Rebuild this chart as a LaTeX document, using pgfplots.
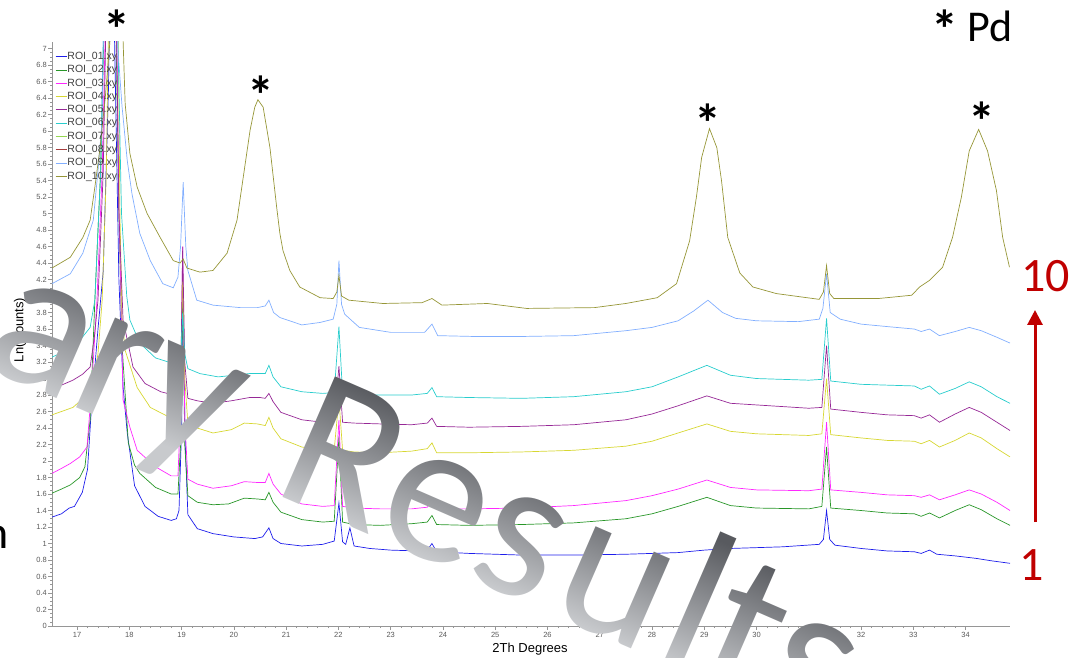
\documentclass[border=0pt]{standalone}
\usepackage{fontspec}
\setmainfont{Liberation Sans}
\newfontfamily\carlito{Carlito}
\usepackage{pgfplots}
\pgfplotsset{compat=1.18}
\usetikzlibrary{arrows.meta,fadings}

\definecolor{c01}{RGB}{30,30,235}
\definecolor{c02}{RGB}{40,150,40}
\definecolor{c03}{RGB}{255,40,255}
\definecolor{c04}{RGB}{215,215,50}
\definecolor{c05}{RGB}{150,40,150}
\definecolor{c06}{RGB}{40,205,205}
\definecolor{c07}{RGB}{150,215,80}
\definecolor{c08}{RGB}{165,60,60}
\definecolor{c09}{RGB}{130,175,255}
\definecolor{c10}{RGB}{150,150,55}
\definecolor{axisgray}{RGB}{150,150,150}
\definecolor{labelgray}{RGB}{90,90,90}
\definecolor{wmlight}{RGB}{200,202,205}
\definecolor{wmdark}{RGB}{88,90,95}
\definecolor{annred}{RGB}{192,0,0}

% gradient across the height of the watermark letters
\pgfdeclareverticalshading{wmshade}{100bp}{color(0bp)=(wmlight); color(50bp)=(wmlight); color(59.6bp)=(wmdark); color(100bp)=(wmdark)}

% watermark glyphs on a common baseline (local frame, baseline along x)
\begin{tikzfadingfrompicture}[name=wmfade, x=1pt, y=1pt]
\path (-700,-350) rectangle (700,350);
\begin{scope}[every node/.style={inner sep=0pt, anchor=base, text=transparent!0, font=\carlito\fontsize{205}{205}\selectfont}]
\node at (-283,0) {a};
\node at (-202,0) {r};
\node at (-122,0) {y};
\node at (41,0) {R};
\node at (145,0) {e};
\node at (237,0) {s};
\node at (340,0) {u};
\node at (424,0) {l};
\node at (480,0) {t};
\node at (553,0) {s};
\end{scope}
\end{tikzfadingfrompicture}

\begin{document}
\begin{tikzpicture}[x=1pt,y=1pt]
\useasboundingbox (0,0) rectangle (1071,657);
\begin{axis}[
  at={(52pt,31pt)}, anchor=south west,
  scale only axis, width=958pt, height=584pt,
  xmin=16.52, xmax=34.85, ymin=0, ymax=7.08,
  axis x line=bottom, axis y line=left,
  axis line style={-, draw=axisgray, line width=0.8pt},
  xtick={17,...,34}, ytick={0,0.2,...,7},
  minor x tick num=4, minor y tick num=3,
  tick align=outside, major tick length=4pt, minor tick length=2pt,
  every tick/.style={axisgray, line width=0.6pt},
  ticklabel style={font=\fontsize{7.5}{8}\selectfont, text=labelgray},
  /pgf/number format/assume math mode=true,
  yticklabel style={/pgf/number format/fixed, /pgf/number format/precision=1, inner sep=1pt},
  xticklabel style={inner sep=2pt},
  legend style={at={(axis description cs:0.003,0.985)}, anchor=north west,
    draw=none, fill=none, font=\fontsize{10.5}{11}\selectfont, text=black!75,
    inner sep=0pt, row sep=1.8pt,
    nodes={inner sep=0.5pt, text height=8pt, text depth=2.5pt}},
  legend cell align=left,
  legend image code/.code={\draw[#1, line width=0.9pt] (0pt,0pt) -- (11pt,0pt);},
]
% ROI_01
\addplot[c01, line width=0.7pt] coordinates {
(16.52,1.32)(16.7,1.36)(16.85,1.43)(16.95,1.45)(17.1,1.62)(17.2,1.9)(17.27,2.6)(17.4,3.6)(17.5,4.3)(17.6,6.5)(17.66,9)(17.72,7)(17.8,4.2)(17.88,2.9)(17.96,2.34)(18.1,1.70)(18.3,1.45)(18.55,1.33)(18.8,1.28)(18.9,1.30)(18.95,1.40)(19.0,2.4)(19.03,3.9)(19.07,2.2)(19.12,1.35)(19.3,1.18)(19.6,1.12)(20.0,1.08)(20.4,1.06)(20.55,1.08)(20.67,1.19)(20.75,1.06)(20.9,1.00)(21.3,0.97)(21.7,0.99)(21.92,1.03)(22.01,1.49)(22.08,1.02)(22.14,0.99)(22.22,1.19)(22.3,0.97)(22.6,0.94)(23.0,0.92)(23.5,0.91)(23.7,0.92)(23.79,1.0)(23.88,0.90)(24.5,0.88)(25.5,0.86)(26.5,0.86)(27.5,0.87)(28.5,0.89)(29.0,0.92)(29.5,0.94)(30.5,0.96)(31.2,0.99)(31.28,1.05)(31.34,1.40)(31.40,1.05)(31.5,0.98)(32.0,0.94)(32.5,0.91)(33.02,0.90)(33.15,0.88)(33.31,0.92)(33.45,0.87)(33.8,0.85)(34.2,0.82)(34.5,0.79)(34.85,0.76)};
% ROI_02
\addplot[c02, line width=0.7pt] coordinates {
(16.52,1.61)(16.7,1.66)(16.87,1.71)(17.05,1.80)(17.15,1.93)(17.25,2.5)(17.34,3.95)(17.45,5.5)(17.58,9)(17.7,9)(17.8,5)(17.86,3.4)(17.98,2.22)(18.1,1.95)(18.2,1.85)(18.5,1.68)(18.8,1.60)(18.93,1.60)(18.98,2.2)(19.02,4.1)(19.06,2.2)(19.12,1.58)(19.3,1.50)(19.6,1.47)(19.9,1.48)(20.2,1.55)(20.45,1.54)(20.6,1.53)(20.67,1.62)(20.75,1.50)(20.9,1.38)(21.3,1.29)(21.7,1.26)(21.92,1.27)(22.01,2.3)(22.08,1.26)(22.3,1.23)(22.8,1.22)(23.4,1.24)(23.7,1.26)(23.79,1.34)(23.88,1.23)(24.5,1.22)(25.5,1.23)(26.5,1.25)(27.5,1.30)(28.0,1.36)(28.5,1.45)(29.05,1.56)(29.5,1.46)(30.0,1.43)(31.0,1.42)(31.25,1.45)(31.34,2.17)(31.42,1.43)(32.0,1.40)(32.5,1.37)(33.02,1.36)(33.15,1.33)(33.31,1.37)(33.5,1.31)(33.8,1.40)(34.07,1.47)(34.3,1.41)(34.6,1.30)(34.85,1.22)};
% ROI_03
\addplot[c03, line width=0.7pt] coordinates {
(16.52,1.85)(16.7,1.91)(16.87,1.97)(17.05,2.05)(17.19,2.17)(17.28,2.9)(17.38,3.95)(17.48,5.5)(17.6,9)(17.72,9)(17.8,5.2)(17.88,2.74)(18.01,2.41)(18.15,2.13)(18.5,1.93)(18.8,1.82)(18.93,1.82)(18.98,2.6)(19.02,4.6)(19.06,2.5)(19.12,1.78)(19.3,1.72)(19.6,1.67)(19.95,1.70)(20.2,1.75)(20.45,1.74)(20.6,1.74)(20.67,1.85)(20.75,1.72)(20.9,1.60)(21.3,1.48)(21.7,1.45)(21.92,1.46)(22.01,2.5)(22.08,1.45)(22.3,1.43)(22.8,1.42)(23.4,1.42)(23.7,1.44)(23.79,1.52)(23.88,1.42)(24.5,1.42)(25.5,1.43)(26.5,1.46)(27.5,1.52)(28.0,1.58)(28.5,1.66)(29.05,1.77)(29.5,1.68)(30.0,1.65)(31.0,1.64)(31.25,1.66)(31.34,2.47)(31.42,1.65)(32.0,1.62)(32.5,1.59)(33.02,1.58)(33.15,1.56)(33.31,1.59)(33.5,1.53)(33.8,1.59)(34.07,1.65)(34.3,1.60)(34.6,1.50)(34.85,1.40)};
% ROI_04
\addplot[c04, line width=0.7pt] coordinates {
(16.52,2.56)(16.7,2.60)(16.92,2.65)(17.1,2.75)(17.3,2.94)(17.4,3.3)(17.48,3.95)(17.56,5.5)(17.64,9)(17.76,9)(17.82,5.0)(17.86,3.74)(17.92,3.34)(18.15,2.89)(18.4,2.65)(18.8,2.52)(18.93,2.52)(18.98,3.0)(19.02,4.27)(19.06,3.0)(19.12,2.45)(19.3,2.40)(19.6,2.34)(19.95,2.38)(20.2,2.46)(20.45,2.45)(20.6,2.43)(20.67,2.53)(20.75,2.40)(20.9,2.27)(21.3,2.17)(21.7,2.13)(21.92,2.14)(22.01,2.75)(22.08,2.13)(22.3,2.11)(22.8,2.10)(23.4,2.12)(23.7,2.15)(23.79,2.22)(23.88,2.10)(24.5,2.10)(25.5,2.11)(26.5,2.13)(27.5,2.18)(28.0,2.24)(28.5,2.34)(29.05,2.45)(29.5,2.36)(30.0,2.33)(31.0,2.31)(31.25,2.33)(31.34,3.0)(31.42,2.32)(32.0,2.28)(32.5,2.25)(33.02,2.24)(33.15,2.21)(33.31,2.25)(33.5,2.17)(33.8,2.25)(34.07,2.34)(34.3,2.28)(34.6,2.15)(34.85,2.05)};
% ROI_05
\addplot[c05, line width=0.7pt] coordinates {
(16.52,2.87)(16.7,2.92)(16.92,2.98)(17.1,3.05)(17.25,3.14)(17.33,3.5)(17.4,3.95)(17.5,5.5)(17.6,9)(17.72,9)(17.8,5.0)(17.88,3.71)(18.07,3.14)(18.3,2.94)(18.6,2.84)(18.85,2.80)(18.95,2.82)(18.99,3.3)(19.02,4.6)(19.06,3.2)(19.12,2.76)(19.3,2.73)(19.6,2.70)(19.95,2.73)(20.3,2.77)(20.5,2.77)(20.6,2.76)(20.67,2.82)(20.75,2.72)(20.9,2.59)(21.3,2.50)(21.7,2.47)(21.92,2.48)(22.01,3.15)(22.08,2.47)(22.3,2.46)(22.8,2.45)(23.4,2.44)(23.7,2.46)(23.79,2.52)(23.88,2.42)(24.5,2.41)(25.5,2.42)(26.5,2.44)(27.5,2.50)(28.0,2.57)(28.5,2.67)(29.05,2.79)(29.5,2.70)(30.0,2.68)(31.0,2.64)(31.25,2.65)(31.34,3.40)(31.42,2.63)(32.0,2.59)(32.5,2.56)(33.02,2.55)(33.15,2.52)(33.31,2.56)(33.5,2.47)(33.8,2.57)(34.07,2.65)(34.3,2.59)(34.6,2.47)(34.85,2.37)};
% ROI_06
\addplot[c06, line width=0.7pt] coordinates {
(16.52,3.26)(16.7,3.31)(16.92,3.38)(17.1,3.50)(17.25,3.62)(17.34,3.95)(17.45,5.5)(17.56,9)(17.72,9)(17.85,5.0)(17.95,4.0)(18.01,3.71)(18.2,3.43)(18.5,3.25)(18.8,3.19)(18.95,3.17)(18.99,3.35)(19.02,3.8)(19.06,3.3)(19.12,3.12)(19.35,3.06)(19.7,3.02)(20.0,3.04)(20.3,3.06)(20.5,3.06)(20.6,3.06)(20.67,3.16)(20.75,3.02)(20.9,2.90)(21.3,2.84)(21.7,2.82)(21.92,2.83)(22.01,3.63)(22.08,2.82)(22.3,2.81)(22.8,2.80)(23.4,2.80)(23.7,2.82)(23.79,2.89)(23.88,2.78)(24.5,2.77)(25.5,2.76)(26.5,2.78)(27.5,2.84)(28.0,2.90)(28.5,3.02)(29.05,3.16)(29.5,3.04)(30.0,3.00)(31.0,2.98)(31.25,2.99)(31.34,3.73)(31.42,2.97)(32.0,2.93)(32.5,2.92)(33.02,2.91)(33.15,2.87)(33.31,2.91)(33.5,2.81)(33.8,2.88)(34.07,2.96)(34.3,2.90)(34.6,2.78)(34.85,2.70)};
\addlegendimage{c07}
\addlegendimage{c08}
% ROI_09
\addplot[c09, line width=0.7pt] coordinates {
(16.52,4.15)(16.87,4.27)(17.11,4.52)(17.31,4.92)(17.40,5.52)(17.48,6.13)(17.51,7.5)(17.56,9)(17.72,9)(17.78,7.0)(17.86,6.3)(17.96,5.64)(18.05,5.24)(18.20,4.76)(18.40,4.43)(18.64,4.15)(18.84,4.10)(18.93,4.23)(18.98,4.6)(19.03,5.38)(19.08,4.6)(19.12,4.31)(19.29,3.95)(19.60,3.89)(20.12,3.86)(20.45,3.86)(20.6,3.88)(20.67,3.95)(20.76,3.80)(20.88,3.74)(21.3,3.65)(21.65,3.68)(21.9,3.72)(21.97,3.9)(22.01,4.43)(22.06,3.9)(22.12,3.78)(22.4,3.62)(23.0,3.56)(23.65,3.56)(23.79,3.66)(23.9,3.52)(24.6,3.51)(25.5,3.51)(26.5,3.52)(27.5,3.58)(28.0,3.62)(28.5,3.70)(28.8,3.82)(29.07,3.95)(29.35,3.80)(29.6,3.73)(30.0,3.70)(30.8,3.69)(31.2,3.72)(31.27,3.85)(31.34,4.27)(31.41,3.80)(31.6,3.72)(32.0,3.66)(32.5,3.63)(33.02,3.60)(33.15,3.57)(33.31,3.60)(33.5,3.52)(33.8,3.57)(34.07,3.62)(34.3,3.58)(34.6,3.50)(34.85,3.43)};
% ROI_10
\addplot[c10, line width=0.7pt] coordinates {
(16.52,4.34)(16.87,4.47)(17.11,4.71)(17.25,4.92)(17.34,5.32)(17.44,5.80)(17.54,6.41)(17.63,7.1)(17.72,9)(17.82,9)(17.88,7.1)(17.92,6.33)(18.01,5.73)(18.15,5.32)(18.34,5.00)(18.59,4.71)(18.84,4.43)(18.97,4.40)(19.03,4.45)(19.10,4.34)(19.35,4.29)(19.60,4.31)(19.87,4.52)(20.06,4.92)(20.17,5.40)(20.31,6.01)(20.40,6.29)(20.46,6.38)(20.56,6.29)(20.69,5.80)(20.82,5.07)(20.88,4.76)(20.94,4.55)(21.07,4.31)(21.26,4.11)(21.65,3.98)(21.9,3.97)(21.97,4.05)(22.01,4.25)(22.06,4.0)(22.2,3.95)(22.85,3.91)(23.6,3.92)(23.79,3.97)(23.98,3.89)(24.85,3.91)(25.6,3.85)(26.9,3.86)(27.5,3.91)(28.1,3.98)(28.47,4.15)(28.72,4.67)(28.85,5.20)(28.95,5.68)(29.10,6.03)(29.24,5.80)(29.33,5.40)(29.45,4.71)(29.68,4.28)(29.93,4.11)(30.38,4.03)(31.2,3.96)(31.28,4.05)(31.34,4.37)(31.40,4.03)(31.48,3.97)(32.33,3.97)(32.97,4.01)(33.12,4.11)(33.31,4.19)(33.56,4.35)(33.75,4.71)(33.92,5.20)(34.07,5.76)(34.25,6.02)(34.42,5.76)(34.59,5.28)(34.71,4.71)(34.84,4.35)};
\legend{ROI\_01.xy, ROI\_02.xy, ROI\_03.xy, ROI\_04.xy, ROI\_05.xy, ROI\_06.xy, ROI\_07.xy, ROI\_08.xy, ROI\_09.xy, ROI\_10.xy}
\end{axis}

% axis titles
\node[rotate=90, font=\fontsize{13}{13}\selectfont] at (20,327) {Ln(Counts)};
\node[font=\fontsize{13}{13}\selectfont] at (530,8) {2Th Degrees};

% Pd reflections
\begin{scope}[every node/.style={inner sep=0pt, anchor=base, font=\carlito\bfseries\fontsize{54}{54}\selectfont}]
\node at (117,608) {*};
\node at (261,542) {*};
\node at (708,514) {*};
\node at (982,516) {*};
\node at (945,608) {*};
\end{scope}
\node[inner sep=0pt, anchor=base west, font=\carlito\fontsize{44}{44}\selectfont] at (967,615) {Pd};

% sample order
\node[inner sep=0pt, anchor=base west, text=annred, font=\carlito\fontsize{48}{48}\selectfont] at (1021,365) {10};
\node[inner sep=0pt, anchor=base west, text=annred, font=\carlito\fontsize{48}{48}\selectfont] at (1019,77) {1};
\draw[annred, line width=3pt, -{Triangle[length=15pt,width=15pt]}] (1035,135) -- (1035,347);

\node[inner sep=0pt, anchor=base east, font=\carlito\fontsize{46}{46}\selectfont] at (9,109) {n};

% watermark
\begin{scope}[transform canvas={shift={(283pt,160pt)}, rotate=-23.5}]
\shade[shading=wmshade, path fading=wmfade, fit fading=false] (-700,-350) rectangle (700,350);
\end{scope}
\end{tikzpicture}
\end{document}
